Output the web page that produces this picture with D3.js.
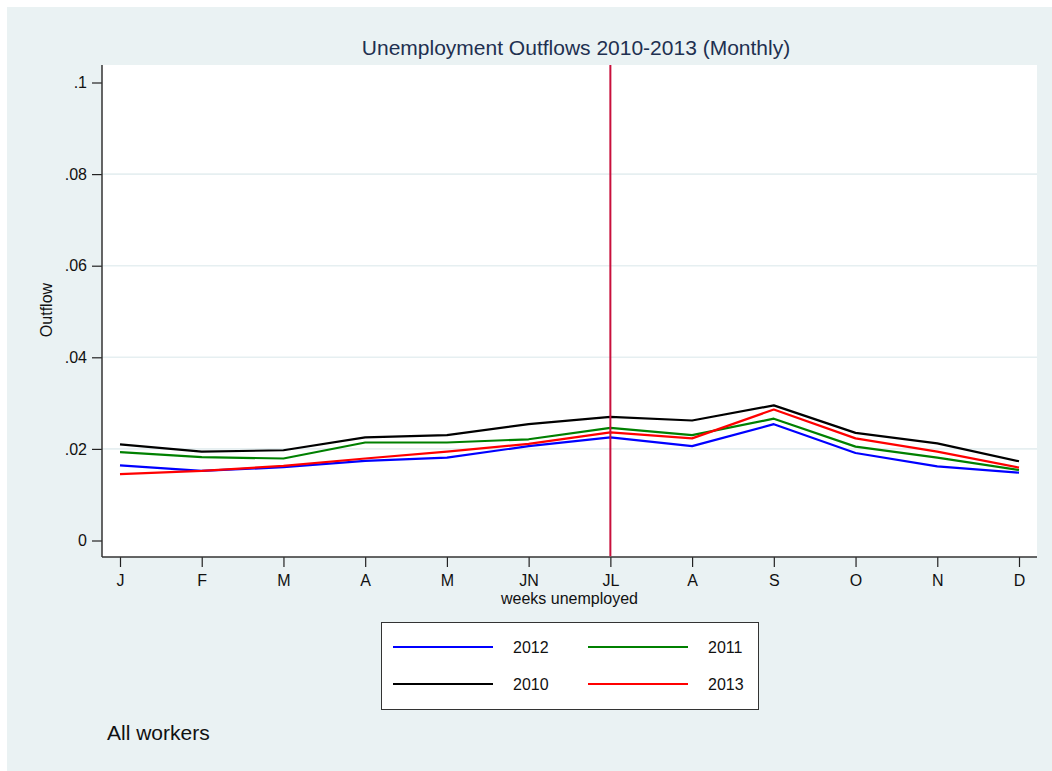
<!DOCTYPE html>
<html>
<head>
<meta charset="utf-8">
<script src="https://cdn.jsdelivr.net/npm/d3@7/dist/d3.min.js"></script>
<style>
  html, body { margin: 0; padding: 0; background: #ffffff; }
  svg { display: block; }
  text { font-family: "Liberation Sans", Arial, sans-serif; }
</style>
</head>
<body>
<script>
// Month labels along the x axis (positions 1..12)
const monthLabels = ["J", "F", "M", "A", "M", "JN", "JL", "A", "S", "O", "N", "D"];
const monthIndex = [1, 2, 3, 4, 5, 6, 7, 8, 9, 10, 11, 12];

// Monthly outflow rates by year
const outflow2012 = [0.0164, 0.0152, 0.0160, 0.0174, 0.0181, 0.0206, 0.0225, 0.0206, 0.0254, 0.0191, 0.0162, 0.0148];
const outflow2011 = [0.0193, 0.0182, 0.0179, 0.0214, 0.0214, 0.0221, 0.0246, 0.0230, 0.0266, 0.0205, 0.0181, 0.0154];
const outflow2010 = [0.0210, 0.0194, 0.0197, 0.0225, 0.0230, 0.0254, 0.0270, 0.0262, 0.0295, 0.0235, 0.0212, 0.0173];
const outflow2013 = [0.0145, 0.0152, 0.0163, 0.0179, 0.0194, 0.0211, 0.0236, 0.0223, 0.0286, 0.0223, 0.0194, 0.0159];

const yTicks = [0, 0.02, 0.04, 0.06, 0.08, 0.1];
const yTickLabels = ["0", ".02", ".04", ".06", ".08", ".1"];
const markerMonth = 7; // vertical reference line at JL

const seriesNames = ["2012", "2011", "2010", "2013"];
const seriesColors = ["#0000ff", "#008000", "#000000", "#ff0000"];
const seriesValues = [outflow2012, outflow2011, outflow2010, outflow2013];

const W = 1052, H = 771;
const plot = { left: 102, right: 1037, top: 65, bottom: 557 };

const svg = d3.select("body").append("svg").attr("width", W).attr("height", H);

// Graph region background
svg.append("rect").attr("x", 7).attr("y", 7).attr("width", W - 7).attr("height", H - 7)
  .attr("fill", "#eaf2f3");

// Plot region
svg.append("rect")
  .attr("x", plot.left).attr("y", plot.top)
  .attr("width", plot.right - plot.left).attr("height", plot.bottom - plot.top)
  .attr("fill", "#ffffff");

const x = d3.scaleLinear().domain([1, 12]).range([120, 1019]);
const y = d3.scaleLinear().domain([0, 0.1]).range([540.5, 82.5]);

// Horizontal grid lines
svg.append("g").selectAll("line")
  .data(yTicks.filter(t => t > 0 && t < 0.1))
  .join("line")
  .attr("x1", plot.left).attr("x2", plot.right)
  .attr("y1", d => y(d)).attr("y2", d => y(d))
  .attr("stroke", "#e6eff1").attr("stroke-width", 1.6);

// Y axis
const yAxis = d3.axisLeft(y).tickValues(yTicks)
  .tickFormat((d, i) => yTickLabels[i]).tickSize(10).tickPadding(5);
const gy = svg.append("g").attr("transform", `translate(${plot.left},0)`).call(yAxis);
gy.select(".domain").remove();
gy.append("line").attr("x1", 0).attr("x2", 0).attr("y1", plot.top).attr("y2", plot.bottom)
  .attr("stroke", "#333").attr("stroke-width", 1.5);
gy.selectAll(".tick line").attr("stroke", "#222").attr("stroke-width", 1.2);
gy.selectAll(".tick text").attr("font-size", 16).attr("fill", "#111")
  .attr("font-family", "Liberation Sans, Arial, sans-serif");

// X axis
const xAxis = d3.axisBottom(x).tickValues(monthIndex)
  .tickFormat((d, i) => monthLabels[i]).tickSize(10).tickPadding(8);
const gx = svg.append("g").attr("transform", `translate(0,${plot.bottom})`).call(xAxis);
gx.select(".domain").remove();
gx.append("line").attr("x1", plot.left).attr("x2", plot.right).attr("y1", 0).attr("y2", 0)
  .attr("stroke", "#333").attr("stroke-width", 1.5);
gx.selectAll(".tick line").attr("stroke", "#222").attr("stroke-width", 1.2);
gx.selectAll(".tick text").attr("font-size", 16).attr("fill", "#111")
  .attr("font-family", "Liberation Sans, Arial, sans-serif");

// Series lines
const line = d3.line().x((d, i) => x(monthIndex[i])).y(d => y(d));
svg.append("g").selectAll("path")
  .data(seriesValues)
  .join("path")
  .attr("d", d => line(d))
  .attr("fill", "none")
  .attr("stroke", (d, i) => seriesColors[i])
  .attr("stroke-width", 2.2)
  .attr("stroke-linejoin", "round");

// Vertical reference line
svg.append("line")
  .attr("x1", x(markerMonth)).attr("x2", x(markerMonth))
  .attr("y1", plot.top).attr("y2", plot.bottom - 0.75)
  .attr("stroke", "#c8103c").attr("stroke-width", 2);

// Titles
svg.append("text").attr("x", 576).attr("y", 55).attr("text-anchor", "middle")
  .attr("font-size", 21).attr("fill", "#1e3050")
  .text("Unemployment Outflows 2010-2013 (Monthly)");

svg.append("text").attr("x", 569.5).attr("y", 604).attr("text-anchor", "middle")
  .attr("font-size", 16).attr("fill", "#111").text("weeks unemployed");

svg.append("text")
  .attr("transform", `translate(52,310) rotate(-90)`)
  .attr("text-anchor", "middle").attr("font-size", 16).attr("fill", "#111")
  .text("Outflow");

// Legend
const legend = svg.append("g");
legend.append("rect").attr("x", 381.5).attr("y", 622.5).attr("width", 377).attr("height", 87)
  .attr("fill", "#ffffff").attr("stroke", "#333").attr("stroke-width", 1);
const legendPos = [
  { lx: 393, ly: 647 }, { lx: 588, ly: 647 },
  { lx: 393, ly: 684 }, { lx: 588, ly: 684 }
];
seriesNames.forEach((name, i) => {
  const p = legendPos[i];
  legend.append("line").attr("x1", p.lx).attr("x2", p.lx + 100)
    .attr("y1", p.ly).attr("y2", p.ly)
    .attr("stroke", seriesColors[i]).attr("stroke-width", 2.2);
  legend.append("text").attr("x", p.lx + 120).attr("y", p.ly + 5.5)
    .attr("font-size", 16).attr("fill", "#111").text(name);
});

// Note
svg.append("text").attr("x", 107).attr("y", 740).attr("font-size", 21)
  .attr("fill", "#111").text("All workers");
</script>
</body>
</html>
